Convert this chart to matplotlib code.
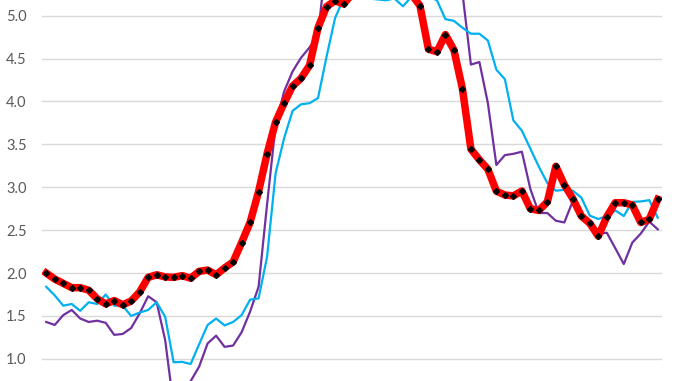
import matplotlib
matplotlib.use("Agg")
import matplotlib.pyplot as plt

# monthly values, 73 points (values above/below the frame are clipped in the source)
red = [2.00, 1.93, 1.88, 1.83, 1.83, 1.80, 1.70, 1.64, 1.68, 1.63,
       1.675, 1.78, 1.95, 1.98, 1.955, 1.95, 1.97, 1.94, 2.02, 2.035,
       1.98, 2.06, 2.13, 2.355, 2.59, 2.95, 3.39, 3.76, 3.98, 4.18,
       4.27, 4.42, 4.86, 5.105, 5.175, 5.136, 5.25, 5.35, 5.45, 5.5,
       5.45, 5.4, 5.35, 5.25, 5.117, 4.61, 4.58, 4.78, 4.60, 4.15,
       3.445, 3.32, 3.21, 2.955, 2.91, 2.90, 2.957, 2.75, 2.73, 2.83,
       3.245, 3.03, 2.867, 2.665, 2.58, 2.43, 2.657, 2.82, 2.82, 2.794,
       2.59, 2.627, 2.86]

cyan = [1.84, 1.74, 1.62, 1.64, 1.56, 1.66, 1.64, 1.75, 1.62, 1.62,
        1.50, 1.54, 1.57, 1.66, 1.49, 0.96, 0.965, 0.94, 1.17, 1.395,
        1.47, 1.39, 1.43, 1.51, 1.69, 1.705, 2.19, 3.16, 3.57, 3.89,
        3.967, 3.98, 4.04, 4.52, 4.97, 5.2, 5.25, 5.22, 5.2, 5.19,
        5.18, 5.2, 5.11, 5.22, 5.24, 5.22, 5.18, 4.96, 4.94, 4.86,
        4.79, 4.79, 4.71, 4.37, 4.26, 3.78, 3.66, 3.45, 3.24, 3.05,
        2.96, 2.97, 2.96, 2.88, 2.67, 2.63, 2.665, 2.73, 2.665, 2.83,
        2.835, 2.85, 2.645]

purple = [1.43, 1.395, 1.51, 1.57, 1.47, 1.43, 1.445, 1.42, 1.28, 1.29,
          1.36, 1.53, 1.73, 1.66, 1.22, 0.45, 0.48, 0.74, 0.91, 1.18,
          1.27, 1.14, 1.155, 1.31, 1.55, 1.84, 2.8, 3.72, 4.115, 4.35,
          4.51, 4.63, 4.77, 5.7, 5.8, 5.85, 5.9, 5.9, 5.9, 5.85,
          5.8, 5.75, 5.7, 5.65, 5.6, 5.55, 5.5, 5.45, 5.4, 5.27,
          4.43, 4.46, 3.98, 3.26, 3.375, 3.39, 3.415, 2.98, 2.70, 2.70,
          2.61, 2.59, 2.84, 2.68, 2.55, 2.46, 2.47, 2.29, 2.105, 2.355,
          2.46, 2.60, 2.51]

yticks = [1.0, 1.5, 2.0, 2.5, 3.0, 3.5, 4.0, 4.5, 5.0]

plt.rcParams['font.family'] = ['Lato', 'DejaVu Sans']

x = list(range(len(red)))

fig = plt.figure(figsize=(6.78, 3.81), dpi=100)
ax = fig.add_axes([42 / 678, 0, 620 / 678, 1])

ax.plot(x, purple, color='#7030A0', lw=1.6, zorder=2)
ax.plot(x, cyan, color='#00B0F0', lw=1.6, zorder=3)
ax.plot(x, red, color='#FF0000', lw=5.4, solid_joinstyle='round', zorder=4)
ax.plot(x, red, linestyle='none', marker='D', markersize=3, color='black', zorder=5)

ax.set_xlim(-0.5, len(red) - 0.5)
ax.set_ylim(0.742, 5.183)
ax.set_yticks(yticks)
ax.set_yticklabels([f"{t:.1f}" for t in yticks])
ax.set_xticks([])
ax.grid(axis='y', color='#d9d9d9', lw=1)
ax.set_axisbelow(True)
for s in ax.spines.values():
    s.set_visible(False)
ax.tick_params(axis='y', length=0, pad=11, labelsize=10.5, labelcolor='#595959')

fig.savefig('out.png', dpi=100)
